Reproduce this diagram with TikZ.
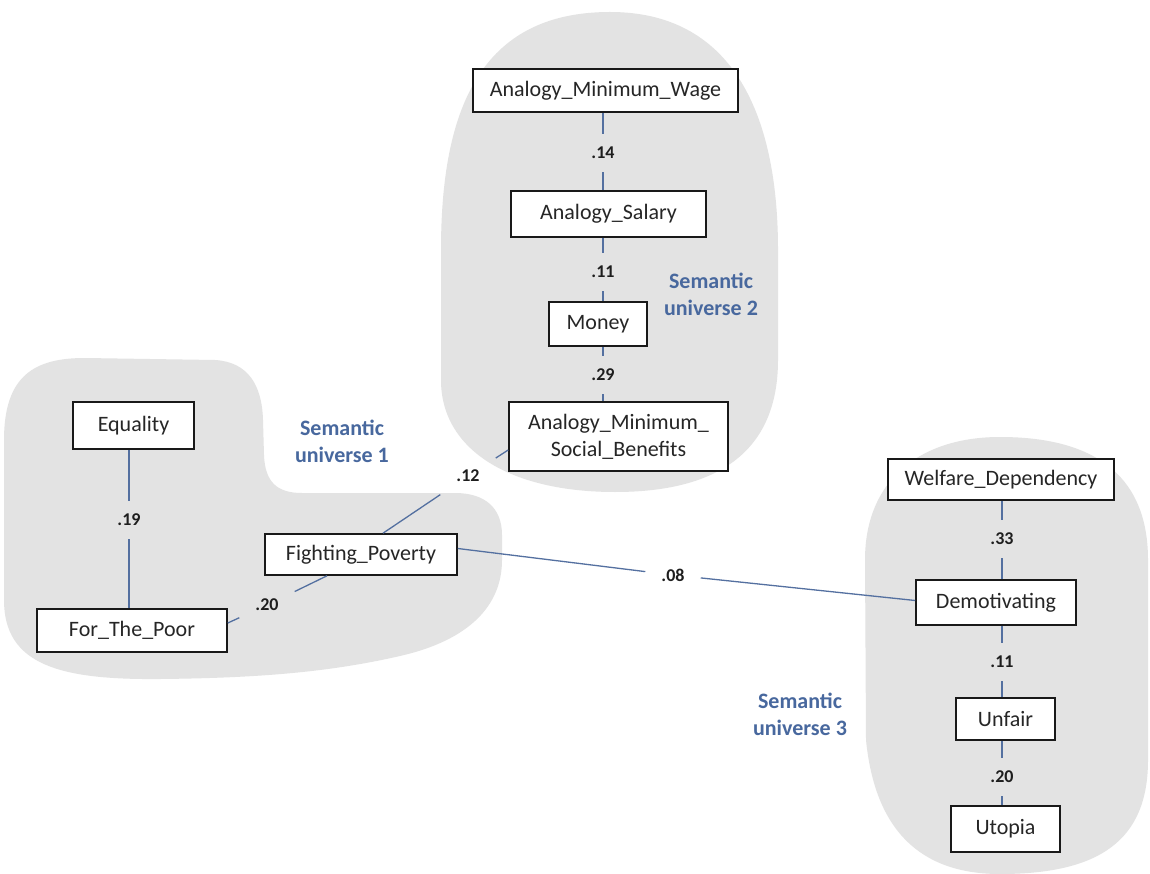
\documentclass[tikz,border=0pt]{standalone}
\usepackage{fontspec}
\setmainfont{Carlito}
\definecolor{blobgray}{RGB}{227,227,227}
\definecolor{linecol}{RGB}{84,112,160}
\definecolor{unicol}{RGB}{72,104,158}
\definecolor{numcol}{RGB}{30,30,30}
\begin{document}
\begin{tikzpicture}[x=1pt,y=-1pt,
  box/.style={draw=black!90, line width=1.6pt, fill=white, inner sep=0pt,
    font=\fontsize{22}{27}\selectfont, text=black!85, align=center},
  num/.style={font=\bfseries\fontsize{18}{20}\selectfont, text=numcol,
    inner xsep=16pt, inner ysep=13pt},
  conn/.style={draw=linecol, line width=1.3pt},
  uni/.style={font=\bfseries\fontsize{22}{27}\selectfont, text=unicol, align=center},
  blob/.style={fill=blobgray}]
\useasboundingbox (0,0) rectangle (1150,874);
\fill[white] (0,0) rectangle (1150,874);

% semantic universe blobs
\fill[blob] (4,470) -- (4,440) .. controls (4,375) and (35,358) .. (85,358)
  -- (215,360) .. controls (248,362) and (262,385) .. (263,420)
  -- (264,455) .. controls (265,482) and (277,493) .. (302,493)
  -- (455,493) .. controls (485,493) and (502,508) .. (502,535)
  -- (502,560) .. controls (502,605) and (470,640) .. (400,656)
  .. controls (330,672) and (260,678) .. (160,679)
  .. controls (60,680) and (4,665) .. (4,600) -- cycle;
\fill[blob] (441,250) .. controls (441,110) and (480,12) .. (610,12)
  .. controls (730,12) and (778,110) .. (778,250)
  -- (778,360) .. controls (778,450) and (720,492) .. (615,492)
  .. controls (510,492) and (441,450) .. (441,380) -- cycle;
\fill[blob] (865,560) .. controls (865,480) and (920,437) .. (1000,437)
  .. controls (1100,437) and (1148,480) .. (1148,560)
  -- (1148,760) .. controls (1148,840) and (1100,874) .. (1000,874)
  .. controls (920,874) and (875,830) .. (866,740) -- cycle;

% boxes
\node[box, minimum width=265pt, minimum height=43pt] (amw) at (605.5,90.5) {Analogy\_Minimum\_Wage};
\node[box, minimum width=195pt, minimum height=46pt] (as) at (608.5,214) {Analogy\_Salary};
\node[box, minimum width=98pt, minimum height=44pt] (mon) at (598,324) {Money};
\node[box, minimum width=219pt, minimum height=69pt] (amsb) at (618.5,436.5) {Analogy\_Minimum\_\\Social\_Benefits};
\node[box, minimum width=121pt, minimum height=47pt] (eq) at (133.5,425.5) {Equality};
\node[box, minimum width=190pt, minimum height=43pt] (ftp) at (132,630.5) {For\_The\_Poor};
\node[box, minimum width=192pt, minimum height=41pt] (fp) at (361,554.5) {Fighting\_Poverty};
\node[box, minimum width=226pt, minimum height=41pt] (wd) at (1001,479.5) {Welfare\_Dependency};
\node[box, minimum width=160pt, minimum height=45pt] (dem) at (996,602.5) {Demotivating};
\node[box, minimum width=99pt, minimum height=42pt] (unf) at (1005.5,719) {Unfair};
\node[box, minimum width=109pt, minimum height=46pt] (uto) at (1005.5,829) {Utopia};

% weights
\node[num] (n14) at (603,153) {.14};
\node[num] (n11a) at (603,272) {.11};
\node[num] (n29) at (603,375) {.29};
\node[num] (n12) at (468,476) {.12};
\node[num] (n19) at (129,520) {.19};
\node[num] (n20a) at (267,605) {.20};
\node[num] (n08) at (673,575) {.08};
\node[num] (n33) at (1002,539) {.33};
\node[num] (n11b) at (1002,662) {.11};
\node[num] (n20b) at (1002,777) {.20};

% universe labels
\node[uni] (u1) at (342,441) {Semantic\\universe 1};
\node[uni] (u2) at (711,294) {Semantic\\universe 2};
\node[uni] (u3) at (800,714) {Semantic\\universe 3};

% connectors
\draw[conn] (amw.south -| n14) -- (n14) -- (as.north -| n14);
\draw[conn] (as.south -| n11a) -- (n11a) -- (mon.north -| n11a);
\draw[conn] (mon.south -| n29) -- (n29) -- (amsb.north -| n29);
\draw[conn] ([xshift=22pt]fp.north) -- (n12) -- ([yshift=-13.5pt]amsb.west);
\draw[conn] (eq.south -| n19) -- (n19) -- (ftp.north -| n19);
\draw[conn] ([yshift=7.5pt]ftp.east) -- (n20a) -- ([xshift=-34pt]fp.south);
\draw[conn] ([yshift=6pt]fp.east) -- (n08) -- ([yshift=2pt]dem.west);
\draw[conn] (wd.south -| n33) -- (n33) -- (dem.north -| n33);
\draw[conn] (dem.south -| n11b) -- (n11b) -- (unf.north -| n11b);
\draw[conn] (unf.south -| n20b) -- (n20b) -- (uto.north -| n20b);
\end{tikzpicture}
\end{document}
